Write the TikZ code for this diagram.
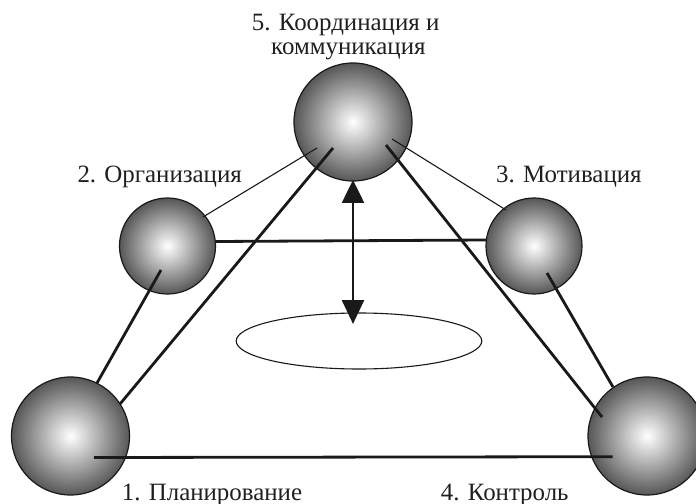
\documentclass[tikz,border=0pt]{standalone}
\usepackage{fontspec}
\setmainfont{Liberation Serif}
\usetikzlibrary{arrows.meta,shapes.geometric,calc}
\begin{document}
\begin{tikzpicture}[x=1bp,y=-1bp,
  sphere/.style={circle,draw=black!90,line width=1.2bp,inner sep=0pt,outer sep=0pt,
    inner color=white,outer color=black!66},
  bigsphere/.style={sphere,minimum size=118bp},
  smallsphere/.style={sphere,minimum size=96bp},
  thinlink/.style={draw=black!90,line width=1.1bp},
  thicklink/.style={draw=black!90,line width=2.8bp},
  caption/.style={anchor=base west,inner sep=0pt,
    font=\fontsize{25}{30}\selectfont,text=black!88},
]
\useasboundingbox (0,0) rectangle (696,504);

% the five functions as shaded balls
\node[bigsphere]   (s5) at (353,122) {};
\node[smallsphere] (s2) at (167.5,246) {};
\node[smallsphere] (s3) at (534,246) {};
\node[bigsphere]   (s1) at (70.5,436) {};
\node[bigsphere]   (s4) at (647,436) {};

% central ellipse
\node[draw=black!90,line width=1.1bp,ellipse,inner sep=0pt,
      minimum width=245.6bp,minimum height=56bp] (ov) at (359,341) {};

% links between the balls
\draw[thinlink]  ($(s5)+(-36,26)$)   -- ($(s2)+(35.5,-29)$);
\draw[thinlink]  ($(s5)+(39,17)$)    -- ($(s3)+(-28,-36)$);
\draw[thicklink] ($(s5)+(-20,26)$)   -- ($(s1)+(49.5,-32)$);
\draw[thicklink] ($(s5)+(33,23)$)    -- ($(s4)+(-45,-19)$);
\draw[thicklink] ($(s2)+(-6.5,24)$)  -- ($(s1)+(26.5,-53)$);
\draw[thicklink] ($(s3)+(13,27)$)    -- ($(s4)+(-34,-49)$);
\draw[thicklink] ($(s2)+(48.5,-4.5)$) -- ($(s3)+(-48,-6)$);
\draw[thicklink] ($(s1)+(23.5,21.5)$) -- ($(s4)+(-34.3,20.7)$);

% two-headed arrow from the top ball to the ellipse
\draw[draw=black!90,line width=2.6bp,
      {Triangle[length=23bp,width=22bp]}-{Triangle[length=24bp,width=22bp]}]
  ($(s5)+(0,58)$) -- ($(ov)+(-6,-17)$);

% captions
\node[caption] (t5a) at (251.7,30.7) {5. Координация и};
\node[caption] (t5b) at (271,55)     {коммуникация};
\node[caption] (t2)  at (77.3,182.3) {2. Организация};
\node[caption] (t3)  at (496,182.3)  {3. Мотивация};
\node[caption] (t1)  at (121.7,500)  {1. Планирование};
\node[caption] (t4)  at (440.7,500)  {4. Контроль};
\end{tikzpicture}
\end{document}
